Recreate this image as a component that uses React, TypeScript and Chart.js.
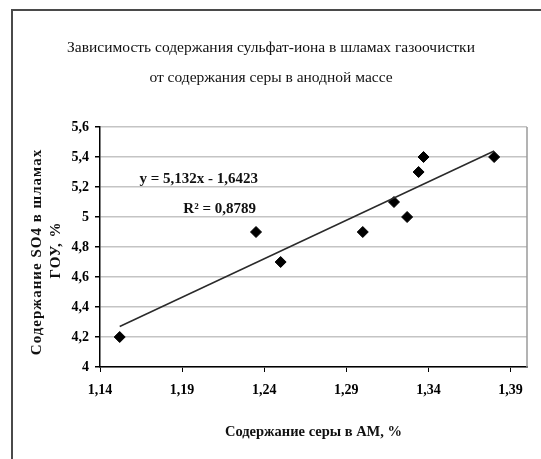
import React, { useEffect, useRef } from "react";
import { Chart, registerables } from "chart.js";

Chart.register(...registerables);

const titleLines = [
  "Зависимость содержания сульфат-иона в шламах газоочистки",
  "от содержания серы в анодной массе",
];
const xAxisTitle = "Содержание серы в АМ, %";
const yAxisTitleLines = ["Содержание SO4 в шламах", "ГОУ, %"];

const sulfurContent = [1.152, 1.235, 1.25, 1.3, 1.319, 1.327, 1.334, 1.337, 1.38];
const sulfateContent = [4.2, 4.9, 4.7, 4.9, 5.1, 5.0, 5.3, 5.4, 5.4];

const trendSlope = 5.132;
const trendIntercept = -1.6423;
const trendR2 = "0,8789";
const trendLabel = "y = 5,132x - 1,6423";

const xTicks = [1.14, 1.19, 1.24, 1.29, 1.34, 1.39];
const xMin = 1.14;
const xMax = 1.4;
const yMin = 4;
const yMax = 5.6;
const yStep = 0.2;

const fmt = (v: number, d: number) => String(Number(v.toFixed(d))).replace(".", ",");

export default function App() {
  const ref = useRef<HTMLCanvasElement | null>(null);
  useEffect(() => {
    if (!ref.current) return;
    const xs = sulfurContent;
    const xLo = Math.min(...xs);
    const xHi = Math.max(...xs);
    const trend = [
      { x: xLo, y: trendSlope * xLo + trendIntercept },
      { x: xHi, y: trendSlope * xHi + trendIntercept },
    ];
    const points = xs.map((x, i) => ({ x, y: sulfateContent[i] }));

    const overlay = {
      id: "overlay",
      afterDraw(chart: any) {
        const ctx = chart.ctx;
        const a = chart.chartArea;
        ctx.save();
        // outer frame
        ctx.strokeStyle = "#4a4a4a";
        ctx.lineWidth = 2;
        ctx.beginPath();
        ctx.moveTo(12, 459);
        ctx.lineTo(12, 10);
        ctx.lineTo(541, 10);
        ctx.stroke();
        // plot right border
        ctx.strokeStyle = "#9a9a9a";
        ctx.lineWidth = 1.5;
        ctx.beginPath();
        ctx.moveTo(a.right, a.top);
        ctx.lineTo(a.right, a.bottom);
        ctx.stroke();
        ctx.fillStyle = "#111";
        ctx.textAlign = "center";
        ctx.textBaseline = "middle";
        ctx.font = "15.5px 'Liberation Serif'";
        ctx.fillText(titleLines[0], 271, 48);
        ctx.fillText(titleLines[1], 271, 78);
        ctx.font = "bold 14.5px 'Liberation Serif'";
        ctx.fillText(xAxisTitle, (a.left + a.right) / 2, 432);
        ctx.font = "bold 15px 'Liberation Serif'";
        try { (ctx as any).letterSpacing = "1px"; } catch (e) {}
        ctx.save();
        ctx.translate(37, 252);
        ctx.rotate(-Math.PI / 2);
        ctx.fillText(yAxisTitleLines[0], 0, 0);
        ctx.restore();
        ctx.save();
        ctx.translate(56, 250);
        ctx.rotate(-Math.PI / 2);
        ctx.fillText(yAxisTitleLines[1], 0, 0);
        ctx.restore();
        try { (ctx as any).letterSpacing = "0px"; } catch (e) {}
        ctx.textAlign = "right";
        ctx.font = "bold 15px 'Liberation Serif'";
        ctx.fillText(trendLabel, 258, 179);
        ctx.fillText("R² = " + trendR2, 256, 209);
        ctx.restore();
      },
    };

    const chart = new Chart(ref.current, {
      type: "scatter",
      data: {
        datasets: [
          {
            type: "line",
            data: trend,
            borderColor: "#2a2a2a",
            borderWidth: 1.5,
            pointRadius: 0,
            fill: false,
          } as any,
          {
            data: points,
            pointStyle: "rectRot",
            pointRadius: 5.5,
            backgroundColor: "#000",
            borderColor: "#000",
          },
        ],
      },
      options: {
        animation: false,
        responsive: false,
        layout: { padding: { top: 127, right: 14, left: 0, bottom: 0 } },
        plugins: { legend: { display: false }, tooltip: { enabled: false }, title: { display: false } },
        scales: {
          x: {
            type: "linear",
            min: xMin,
            max: xMax,
            afterBuildTicks: (s: any) => {
              s.ticks = xTicks.map((v) => ({ value: v }));
            },
            afterFit: (s: any) => {
              s.height = 92;
            },
            grid: { drawOnChartArea: false, tickLength: 5, tickColor: "#000" },
            border: { color: "#000", width: 1.5 },
            ticks: {
              color: "#000",
              padding: 10,
              maxRotation: 0,
              autoSkip: false,
              font: { family: "'Liberation Serif'", size: 14, weight: "bold" },
              callback: (v: any) => fmt(Number(v), 2),
            },
          },
          y: {
            min: yMin,
            max: yMax,
            afterFit: (s: any) => {
              s.width = 100;
            },
            grid: { color: "#c4c4c4", lineWidth: 1.5, tickLength: 5, tickColor: "#000" },
            border: { color: "#000", width: 1.5 },
            ticks: {
              stepSize: yStep,
              color: "#000",
              padding: 6,
              font: { family: "'Liberation Serif'", size: 14, weight: "bold" },
              callback: (v: any) => fmt(Number(v), 1),
            },
          },
        },
      },
      plugins: [overlay],
    });
    return () => chart.destroy();
  }, []);
  return (
    <div style={{ position: "fixed", left: 0, top: 0, width: 541, height: 459, background: "#fff" }}>
      <canvas ref={ref} width={541} height={459} style={{ width: 541, height: 459 }} />
    </div>
  );
}
